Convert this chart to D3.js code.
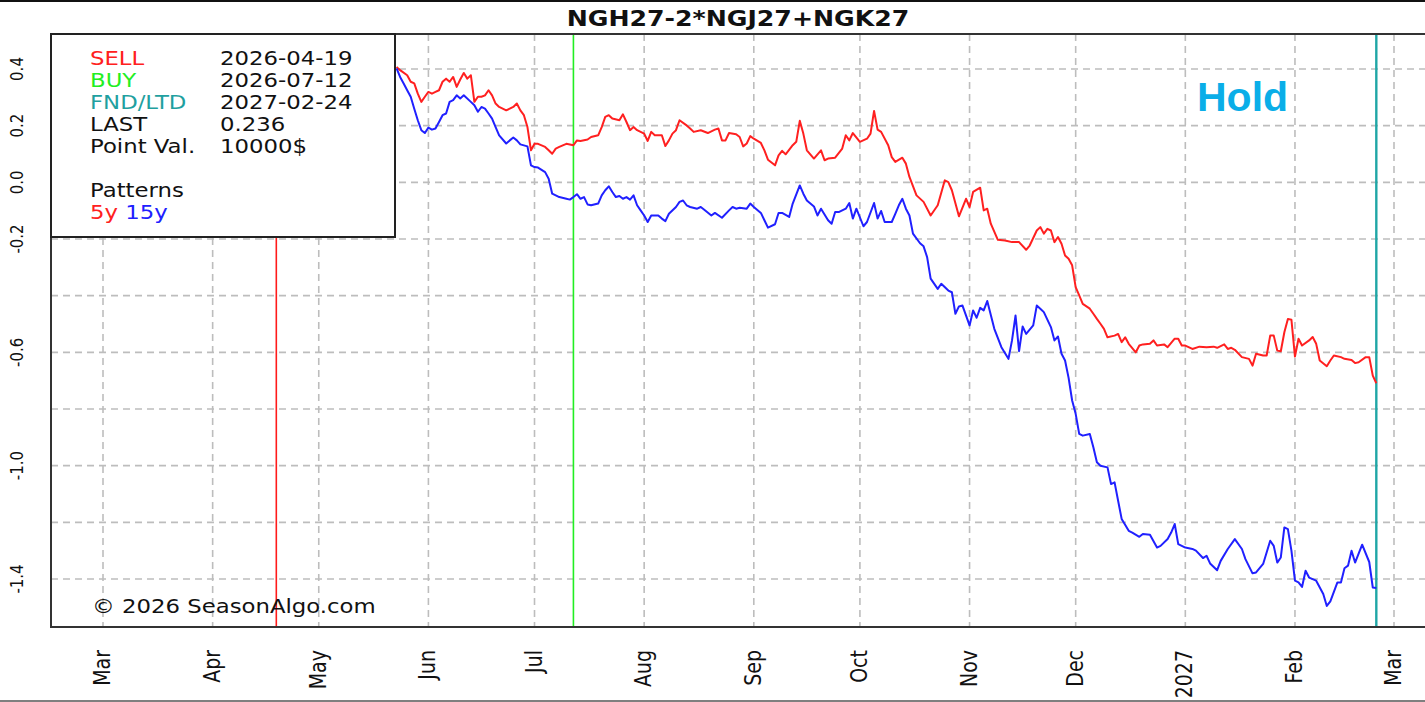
<!DOCTYPE html>
<html><head><meta charset="utf-8">
<script src="https://cdn.jsdelivr.net/npm/d3@7"></script>
<style>html,body{margin:0;padding:0;background:#fff;overflow:hidden}</style>
</head><body>
<svg id="chart" width="1425" height="702"></svg>
<script>
// ---------- DATA ----------
const chartTitle = "NGH27-2*NGJ27+NGK27";
const seasonStart = "2026-03-01";           // day 0 of the offsets below
const monthTicks = ["2026-03-01","2026-04-01","2026-05-01","2026-06-01","2026-07-01","2026-08-01","2026-09-01","2026-10-01","2026-11-01","2026-12-01","2027-01-01","2027-02-01","2027-03-01"];
const monthLabels = ["Mar","Apr","May","Jun","Jul","Aug","Sep","Oct","Nov","Dec","2027","Feb","Mar"];
const yGrid = [0.4,0.2,0.0,-0.2,-0.4,-0.6,-0.8,-1.0,-1.2,-1.4];
const yTickVals = [0.4,0.2,0.0,-0.2,-0.6,-1.0,-1.4];
const yTickLabels = ["0.4","0.2","0.0","-0.2","-0.6","-1.0","-1.4"];
const sellDate = "2026-04-19", buyDate = "2026-07-12", fndDate = "2027-02-24";
const legendLabels = ["SELL","BUY","FND/LTD","LAST","Point Val."];
const legendValues = ["2026-04-19","2026-07-12","2027-02-24","0.236","10000$"];
const signalText = "Hold";
const copyrightText = "\u00A9 2026 SeasonAlgo.com";

// [day offset from seasonStart, value]
const pattern5y = [
[83,.407],[84,.396],[86,.378],[87,.355],[88,.349],[89,.313],[90,.284],[91,.302],[92,.319],[93,.313],[94,.319],[95,.325],[96,.355],[97,.366],[98,.355],[99,.372],[100,.337],[101,.363],[102,.386],[103,.366],[104,.378],[105,.284],[106,.302],[107,.302],[108,.307],[109,.325],[110,.307],[111,.278],[112,.266],[114,.254],[115,.260],[116,.266],[117,.278],[118,.254],[119,.237],[120,.195],[121,.113],[122,.136],[123,.136],[125,.125],[126,.113],[127,.101],[128,.119],[129,.125],[131,.136],[133,.131],[134,.148],[135,.146],[137,.151],[138,.160],[140,.166],[141,.195],[142,.231],[143,.237],[144,.225],[146,.219],[147,.240],[148,.213],[149,.184],[150,.195],[151,.184],[153,.172],[154,.146],[155,.178],[156,.166],[158,.166],[159,.128],[160,.148],[161,.172],[162,.184],[163,.219],[165,.201],[166,.190],[167,.178],
[169,.184],[171,.174],[173,.186],[174,.190],[175,.148],[176,.148],[177,.174],[179,.170],[180,.160],[181,.127],[182,.137],[183,.163],[184,.154],[186,.139],[187,.113],[188,.080],[190,.060],[191,.095],[192,.111],[193,.099],[195,.131],[196,.143],[197,.217],[198,.172],[199,.113],[201,.084],[203,.113],[204,.078],[205,.084],[207,.087],[209,.119],[210,.166],[211,.148],[212,.174],[214,.143],[216,.154],[217,.172],[218,.252],[219,.186],[220,.178],[222,.131],[223,.089],[224,.072],[226,.087],[227,.066],[228,.019],[230,-.046],[232,-.069],[234,-.117],[236,-.081],[238,.007],[239,.001],[240,-.028],[242,-.120],[244,-.058],[245,-.087],[246,-.034],[248,-.019],[249,-.099],[250,-.093],[251,-.146],[253,-.203],[255,-.205],[257,-.211],[259,-.211],[261,-.238],[262,-.223],[264,-.170],[265,-.158],[266,-.181],[267,-.164],
[268,-.170],[269,-.211],[270,-.193],[271,-.217],[272,-.258],[273,-.270],[274,-.293],[275,-.370],[276,-.399],[277,-.429],[279,-.446],[280,-.464],[281,-.482],[282,-.499],[283,-.517],[284,-.547],[286,-.541],[287,-.535],[288,-.564],[289,-.547],[290,-.570],[292,-.600],
[293,-.576],[294,-.572],[296,-.570],[297,-.558],[298,-.576],[300,-.572],[301,-.582],[303,-.552],[304,-.552],[305,-.576],[306,-.576],[308,-.588],[310,-.580],[312,-.582],[314,-.580],[315,-.584],[317,-.572],[318,-.588],[319,-.584],[320,-.591],[322,-.617],[324,-.623],[325,-.647],[326,-.605],[328,-.611],[329,-.611],[330,-.541],[331,-.541],[332,-.594],[333,-.596],[334,-.529],[335,-.482],[336,-.485],[337,-.615],[338,-.552],[339,-.576],[341,-.558],[342,-.546],[343,-.570],[344,-.629],[346,-.649],[347,-.629],[348,-.611],[350,-.617],[351,-.623],[353,-.627],[354,-.638],[355,-.635],[357,-.617],[358,-.617],[359,-.682],[360,-.709]
];
const pattern15y = [
[83,.402],[84,.372],[85,.349],[86,.325],[87,.302],[88,.260],[89,.219],[90,.184],[91,.174],[92,.193],[93,.186],[94,.190],[95,.213],[96,.237],[97,.243],[98,.284],[99,.290],[100,.307],[101,.296],[102,.307],[104,.284],[105,.272],[106,.249],[107,.266],[108,.260],[109,.243],[110,.225],[111,.195],[112,.166],[114,.137],[115,.148],[116,.158],[117,.148],[118,.134],[120,.127],[121,.060],[122,.054],[123,.052],[125,.036],[126,.013],[127,-.040],[128,-.046],[129,-.052],[131,-.058],[132,-.061],[133,-.052],[134,-.042],[135,-.058],[136,-.052],[137,-.078],[138,-.081],[140,-.075],[141,-.046],[142,-.028],[143,-.014],[144,-.034],[145,-.052],[146,-.048],[147,-.058],[148,-.052],[149,-.061],[150,-.046],[151,-.081],[152,-.099],[153,-.117],[154,-.140],[155,-.117],[157,-.117],[158,-.128],[159,-.137],[160,-.111],[162,-.087],[163,-.069],[164,-.064],[165,-.081],[166,-.087],[168,-.093],
[169,-.087],[170,-.097],[172,-.117],[173,-.108],[175,-.125],[177,-.099],[178,-.087],[179,-.093],[180,-.090],[182,-.093],[183,-.075],[184,-.087],[186,-.108],[187,-.134],[188,-.160],[190,-.148],[191,-.108],[192,-.108],[194,-.122],[195,-.075],[197,-.011],[198,-.040],[199,-.064],[201,-.085],[202,-.117],[203,-.093],[205,-.134],[206,-.146],[207,-.105],[208,-.105],[210,-.093],[211,-.073],[212,-.128],[213,-.093],[215,-.155],[216,-.140],[218,-.073],[219,-.128],[220,-.101],[221,-.140],[223,-.140],[224,-.111],[225,-.081],[226,-.058],[227,-.093],[228,-.117],[229,-.181],[231,-.215],[232,-.226],[233,-.264],[234,-.340],[236,-.376],[237,-.358],[239,-.382],[240,-.388],[241,-.464],[242,-.438],[243,-.435],[245,-.505],[246,-.452],[247,-.478],[248,-.443],[249,-.452],[250,-.419],[252,-.517],[254,-.582],[256,-.623],[257,-.558],[258,-.470],[259,-.596],[260,-.509],[261,-.535],[263,-.505],[264,-.435],[265,-.446],[266,-.458],[268,-.511],[269,-.558],[270,-.544],[271,-.605],[272,-.629],[273,-.690],[274,-.770],[275,-.817],[276,-.888],[277,-.894],[279,-.888],[280,-.935],[281,-.988],[282,-1.000],[284,-1.006],[285,-1.065],[286,-1.059],[287,-1.124],[288,-1.188],[290,-1.230],[291,-1.236],[293,-1.251],[294,-1.241],[296,-1.244],[298,-1.289],[299,-1.283],[301,-1.259],[302,-1.236],[303,-1.206],[304,-1.277],[305,-1.283],[306,-1.289],[308,-1.294],[309,-1.300],[311,-1.326],[312,-1.318],[313,-1.345],[315,-1.369],[316,-1.336],[318,-1.294],[320,-1.259],[322,-1.294],[323,-1.330],[325,-1.380],[326,-1.377],[328,-1.347],[330,-1.265],[331,-1.283],[332,-1.342],[333,-1.324],[334,-1.218],[335,-1.224],[336,-1.300],[337,-1.406],[338,-1.412],[339,-1.428],[340,-1.371],[341,-1.395],[343,-1.406],[345,-1.453],[346,-1.495],[347,-1.479],[349,-1.412],[350,-1.412],[351,-1.362],[352,-1.353],[353,-1.300],[354,-1.342],[356,-1.279],[358,-1.340],[359,-1.430],[360,-1.432]
];

// ---------- LAYOUT ----------
const W = 1425, H = 702;
const plot = {left: 51, top: 34, right: 1440, bottom: 627};
const SX = 1.2;   // horizontal text stretch seen in the reference
const FONT = "DejaVu Sans, Verdana, sans-serif";
const parse = d3.utcParse("%Y-%m-%d");
const base = parse(seasonStart);
const dayToDate = d => d3.utcDay.offset(base, d);

const x = d3.scaleUtc().domain([parse("2026-03-01"), parse("2027-03-01")]).range([103, 1394]);
const y = d3.scaleLinear().domain([0.4, -1.4]).range([69, 579]);

const svg = d3.select("#chart");
svg.append("rect").attr("width", W).attr("height", H).attr("fill", "#fff");

const defs = svg.append("defs");
defs.append("clipPath").attr("id", "clip").append("rect")
  .attr("x", plot.left).attr("y", plot.top).attr("width", plot.right - plot.left).attr("height", plot.bottom - plot.top);

const g = svg.append("g").attr("clip-path", "url(#clip)");

// grid
g.selectAll("line.hg").data(yGrid).join("line")
  .attr("x1", plot.left).attr("x2", plot.right)
  .attr("y1", d => y(d)).attr("y2", d => y(d))
  .attr("stroke", "#bdbdbd").attr("stroke-width", 1.6).attr("stroke-dasharray", "7,5");
g.selectAll("line.vg").data(monthTicks).join("line")
  .attr("x1", d => x(parse(d))).attr("x2", d => x(parse(d)))
  .attr("y1", plot.top).attr("y2", plot.bottom)
  .attr("stroke", "#bdbdbd").attr("stroke-width", 1.6).attr("stroke-dasharray", "7,5");

// marker lines
const markers = [[sellDate, "#ff1a1a", 1.6], [buyDate, "#22ee22", 1.6], [fndDate, "#1fa6a6", 2.4]];
g.selectAll("line.mk").data(markers).join("line")
  .attr("x1", d => x(parse(d[0]))).attr("x2", d => x(parse(d[0])))
  .attr("y1", plot.top).attr("y2", plot.bottom)
  .attr("stroke", d => d[1]).attr("stroke-width", d => d[2]);

// series
const line = d3.line().x(d => x(dayToDate(d[0]))).y(d => y(d[1]));
g.append("path").datum(pattern5y).attr("d", line)
  .attr("fill", "none").attr("stroke", "#ff2020").attr("stroke-width", 2).attr("stroke-linejoin", "round");
g.append("path").datum(pattern15y).attr("d", line)
  .attr("fill", "none").attr("stroke", "#2020ff").attr("stroke-width", 2).attr("stroke-linejoin", "round");

// plot frame
svg.append("path")
  .attr("d", `M${plot.right},${plot.top}H${plot.left}V${plot.bottom}H${plot.right}`)
  .attr("fill", "none").attr("stroke", "#333").attr("stroke-width", 2);

// outer frame lines
svg.append("line").attr("x1", 0).attr("x2", W).attr("y1", 1).attr("y2", 1).attr("stroke", "#111").attr("stroke-width", 2);
svg.append("line").attr("x1", 0).attr("x2", W).attr("y1", 701).attr("y2", 701).attr("stroke", "#555").attr("stroke-width", 1.5);

// stretched text helper
function txt(parent, px, py, str, opts = {}) {
  const t = parent.append("text")
    .attr("transform", `translate(${px},${py}) scale(${opts.sx ?? SX},1)` + (opts.rot ? ` rotate(${opts.rot})` : ""))
    .attr("font-family", opts.family || FONT)
    .attr("font-size", opts.size || 19)
    .attr("font-weight", opts.weight || "normal")
    .attr("fill", opts.fill || "#111")
    .attr("text-anchor", opts.anchor || "start")
    .text(str);
  return t;
}

// title
txt(svg, 738, 26, chartTitle, {size: 21, weight: "bold", anchor: "middle"});

// y tick labels
yTickVals.forEach((v, i) => txt(svg, 23, y(v), yTickLabels[i], {size: 15, rot: -90, anchor: "middle"}));

// x tick labels
monthTicks.forEach((d, i) => txt(svg, x(parse(d)) + 7, 650, monthLabels[i], {size: 19, rot: -90, anchor: "end"}));

// legend box
const lg = svg.append("g");
lg.append("rect").attr("x", plot.left).attr("y", plot.top).attr("width", 395 - plot.left).attr("height", 237 - plot.top)
  .attr("fill", "#fff").attr("stroke", "#222").attr("stroke-width", 2);
const legendColors = ["#ff2020", "#22ee22", "#1fa0a0", "#111", "#111"];
legendLabels.forEach((l, i) => {
  txt(lg, 90, 65 + 22 * i, l, {fill: legendColors[i]});
  txt(lg, 220, 65 + 22 * i, legendValues[i]);
});
txt(lg, 90, 65 + 22 * 6, "Patterns");
const pt = txt(lg, 90, 65 + 22 * 7, "");
pt.append("tspan").attr("fill", "#ff2020").text("5y ");
pt.append("tspan").attr("fill", "#2020ff").text("15y");

// signal text
txt(svg, 1197, 111, signalText, {sx: 1, size: 41, weight: "bold", family: "Liberation Sans, Arial, sans-serif", fill: "#0aaee8"});

// copyright
txt(svg, 92, 613, copyrightText);
</script>
</body></html>
